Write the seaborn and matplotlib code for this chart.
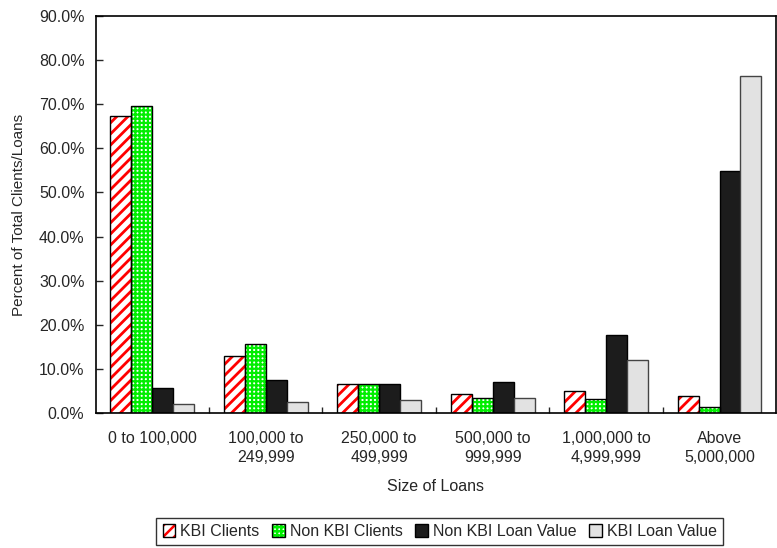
import matplotlib
matplotlib.use("Agg")
import matplotlib.pyplot as plt
from matplotlib.patches import Patch, Rectangle
from matplotlib.ticker import FuncFormatter, FixedLocator
import seaborn as sns
import pandas as pd

categories = ["0 to 100,000", "100,000 to\n249,999", "250,000 to\n499,999",
              "500,000 to\n999,999", "1,000,000 to\n4,999,999", "Above\n5,000,000"]
series = ["KBI Clients", "Non KBI Clients", "Non KBI Loan Value", "KBI Loan Value"]
kbi_clients = [67.3, 12.9, 6.5, 4.4, 5.0, 3.8]
non_kbi_clients = [69.6, 15.6, 6.5, 3.4, 3.2, 1.3]
non_kbi_loan_value = [5.8, 7.6, 6.7, 7.0, 17.6, 54.9]
kbi_loan_value = [2.0, 2.6, 2.9, 3.5, 12.1, 76.4]

rows = []
for s, vals in zip(series, [kbi_clients, non_kbi_clients, non_kbi_loan_value, kbi_loan_value]):
    for c, v in zip(categories, vals):
        rows.append({"Size": c, "Series": s, "Pct": v})
df = pd.DataFrame(rows)

FS = 11.5
sns.set_style("white")
plt.rcParams["font.family"] = ["Liberation Sans", "DejaVu Sans"]
plt.rcParams["font.size"] = FS
plt.rcParams["hatch.linewidth"] = 1.8

fig = plt.figure(figsize=(7.77, 5.48), dpi=100)
ax = fig.add_axes([0.123, 0.246, 0.876, 0.725])

palette = {"KBI Clients": "white", "Non KBI Clients": "white",
           "Non KBI Loan Value": "#1c1c1c", "KBI Loan Value": "#e2e2e2"}
sns.barplot(data=df, x="Size", y="Pct", hue="Series", hue_order=series,
            order=categories, palette=palette, width=0.74, saturation=1,
            edgecolor="black", linewidth=1.0, legend=False, ax=ax)

hatch_spec = {0: ("///", "#ff0000", 2.0), 1: ("++++", "#00ee00", 1.6)}
probe = Rectangle((0, 0), 1, 1)
has_hc = hasattr(probe, "set_hatchcolor")
has_hlw = hasattr(probe, "set_hatch_linewidth")


def style_hatch(p, i):
    h, hc, hlw = hatch_spec[i]
    p.set_hatch(h)
    if has_hlw:
        p.set_hatch_linewidth(hlw)
    if has_hc:
        p.set_hatchcolor(hc)
        p.set_edgecolor("black")
        return False
    p.set_edgecolor(hc)
    p.set_linewidth(0)
    return True


for i, cont in enumerate(ax.containers):
    for p in cont:
        if i == 3:
            p.set_edgecolor("#444444")
        if i in hatch_spec:
            if style_hatch(p, i):
                ax.add_patch(Rectangle(p.get_xy(), p.get_width(), p.get_height(),
                                       fill=False, edgecolor="black", linewidth=1.0,
                                       zorder=p.get_zorder() + 0.1))

ax.set_ylim(0, 90)
ax.set_xlim(-0.5, len(categories) - 0.5)
ax.set_yticks(range(0, 91, 10))
ax.yaxis.set_major_formatter(FuncFormatter(lambda v, _: f"{v:.1f}%"))
ax.tick_params(axis="y", direction="in", length=5, width=1, labelsize=FS, pad=8, left=True)
ax.tick_params(axis="x", which="major", length=0, labelsize=FS, pad=13)
for t in ax.get_xticklabels():
    t.set_linespacing(1.3)
ax.xaxis.set_minor_locator(FixedLocator([k + 0.5 for k in range(len(categories) - 1)]))
ax.tick_params(axis="x", which="minor", direction="in", length=4, width=1, bottom=True)
for sp in ax.spines.values():
    sp.set_visible(True)
    sp.set_color("black")
    sp.set_linewidth(1.2)

ax.set_xlabel("Size of Loans", fontsize=FS, labelpad=10)
ax.set_ylabel("Percent of Total Clients/Loans", fontsize=11, labelpad=9)

handles = []
for i, s in enumerate(series):
    if i in hatch_spec:
        hp = Patch(facecolor="white", label=s)
        style_hatch(hp, i)
        outline = Patch(facecolor="none", edgecolor="black", linewidth=1.0)
        handles.append((hp, outline))
    else:
        handles.append(Patch(facecolor=palette[s], edgecolor="black", linewidth=1.0, label=s))
leg = fig.legend(handles=handles, labels=series, loc="center", bbox_to_anchor=(0.566, 0.03), ncol=4,
                 frameon=True, fancybox=False, edgecolor="black", fontsize=FS,
                 handlelength=0.8, handleheight=0.8, handletextpad=0.3, columnspacing=0.8,
                 borderpad=0.4)
leg.get_frame().set_linewidth(1.0)

fig.savefig("out.png", dpi=100)
